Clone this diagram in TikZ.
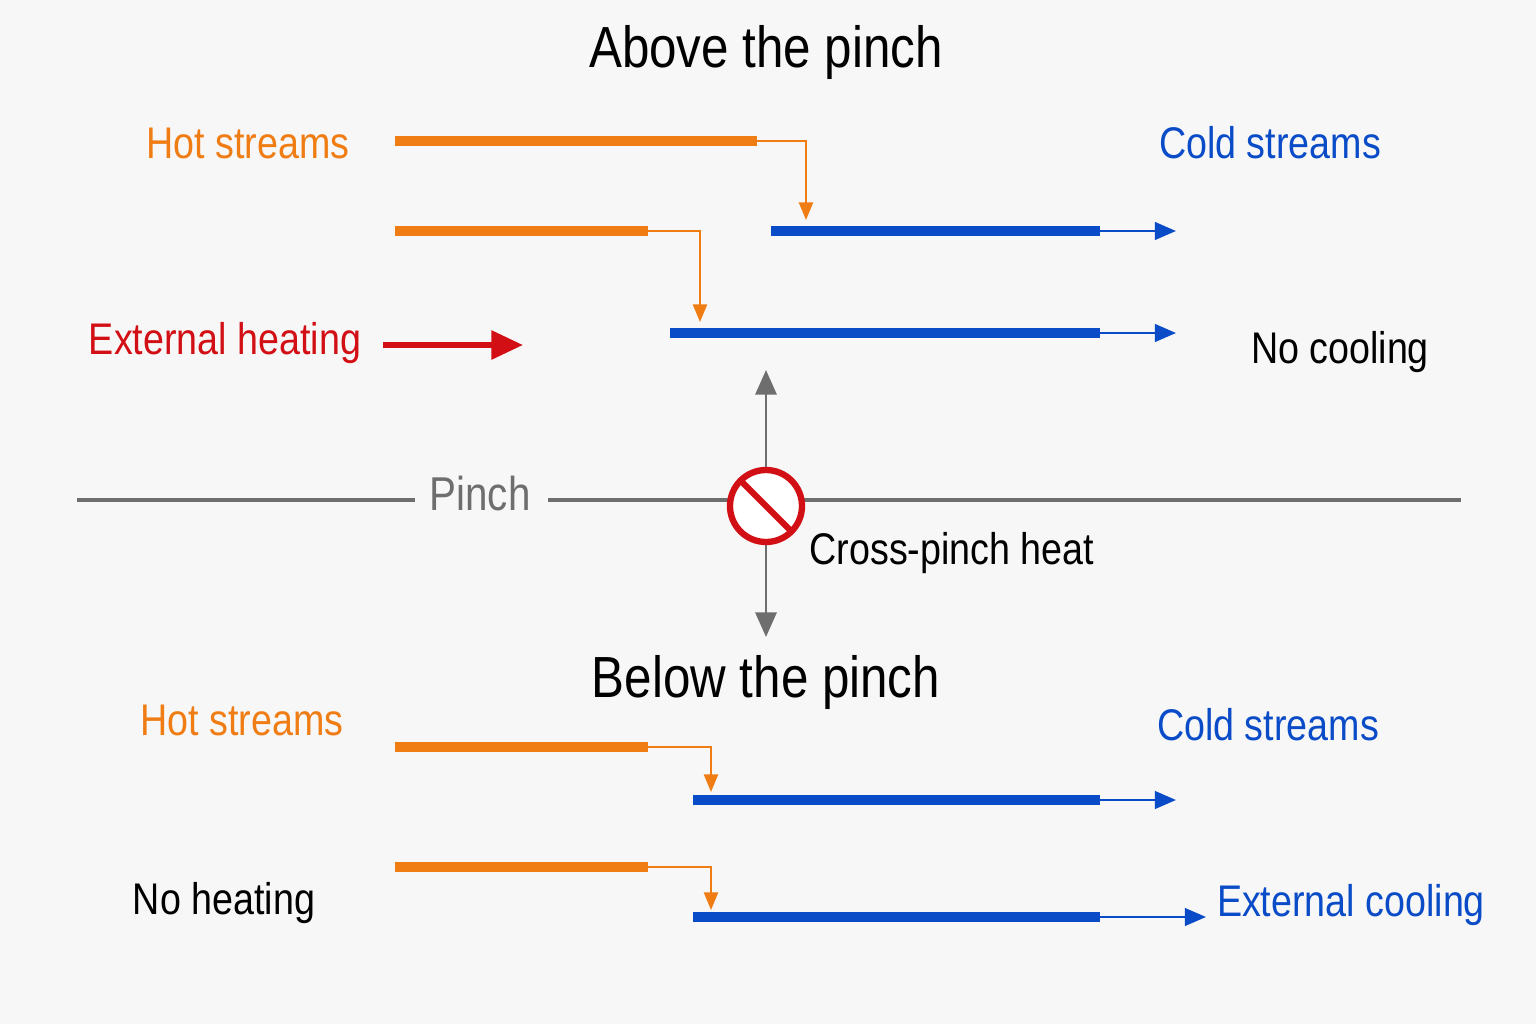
\documentclass[tikz,border=0pt]{standalone}
\usepackage{fontspec}
\setmainfont[FakeStretch=0.85]{Liberation Sans}
\usetikzlibrary{arrows.meta,calc}
\definecolor{hot}{RGB}{240,125,20}
\definecolor{cold}{RGB}{10,75,200}
\definecolor{heat}{RGB}{210,15,20}
\definecolor{pinchgray}{RGB}{110,110,110}
\tikzset{
  hotbar/.style={hot, line width=2.8pt},
  coldbar/.style={cold, line width=2.8pt},
  hotlink/.style={hot, line width=0.6pt, -{Triangle[length=5pt,width=4pt]}},
  coldout/.style={cold, line width=0.7pt, -{Triangle[length=6pt,width=5pt]}},
  lbl/.style={font=\fontsize{12.6}{15}\selectfont}
}
\begin{document}
\begin{tikzpicture}[x=0.01cm, y=-0.01cm]
  \useasboundingbox[fill=white!97!black] (0,0) rectangle (1536,1024);

  % Titles and labels
  \node[font=\fontsize{16.5}{19}\selectfont] (above) at (766,52) {Above the pinch};
  \node[font=\fontsize{16.5}{19}\selectfont] (below) at (766,682) {Below the pinch};
  \node[lbl, hot] (hotA) at (248,143) {Hot streams};
  \node[lbl, cold] (coldA) at (1270,143) {Cold streams};
  \node[lbl, hot] (hotB) at (242,720) {Hot streams};
  \node[lbl, cold] (coldB) at (1268,725) {Cold streams};
  \node[lbl, heat] (extheat) at (225,343) {External heating};
  \node[lbl] (nocool) at (1340,352) {No cooling};
  \node[lbl] (noheat) at (224,903) {No heating};
  \node[lbl, cold] (extcool) at (1351,905) {External cooling};
  \node[lbl] (cross) at (952,553) {Cross-pinch heat};

  % Above the pinch
  \coordinate (h1a) at (395,141); \coordinate (h1b) at (757,141);
  \coordinate (c1a) at (771,231); \coordinate (c1b) at (1100,231); \coordinate (c1c) at (1176,231);
  \coordinate (h2a) at (395,231); \coordinate (h2b) at (648,231);
  \coordinate (c2a) at (670,333); \coordinate (c2b) at (1100,333); \coordinate (c2c) at (1176,333);
  \draw[hotbar] (h1a) -- (h1b);
  \draw[hotlink] (h1b) -| (806,220);
  \draw[coldbar] (c1a) -- (c1b);
  \draw[coldout] (c1b) -- (c1c);
  \draw[hotbar] (h2a) -- (h2b);
  \draw[hotlink] (h2b) -| (700,322);
  \draw[coldbar] (c2a) -- (c2b);
  \draw[coldout] (c2b) -- (c2c);
  \coordinate (ha) at (383,345); \coordinate (hb) at (523,345);
  \draw[heat, line width=1.6pt, -{Triangle[length=9pt,width=8pt]}] (ha) -- (hb);

  % Pinch
  \node[lbl, pinchgray, font=\fontsize{13.5}{16}\selectfont] (pinch) at (480,494) {Pinch};
  \coordinate (p0) at (77,500); \coordinate (p1) at (1461,500);
  \draw[pinchgray, line width=1pt] (p0) -- (415,500);
  \draw[pinchgray, line width=1pt] (548,500) -- (p1);
  \coordinate (ban) at (766,506);
  \draw[pinchgray, line width=0.8pt, -{Triangle[length=7pt,width=6pt]}] (766,468) -- (766,370);
  \draw[pinchgray, line width=0.8pt, -{Triangle[length=7pt,width=6pt]}] (766,544) -- (766,637);
  \fill[white] (ban) circle (36);
  \draw[heat, line width=1.8pt] (ban) circle (36);
  \draw[heat, line width=1.8pt] ($(ban)+(-25,-25)$) -- ($(ban)+(25,25)$);

  % Below the pinch
  \coordinate (h3a) at (395,747); \coordinate (h3b) at (648,747);
  \coordinate (c3a) at (693,800); \coordinate (c3b) at (1100,800); \coordinate (c3c) at (1176,800);
  \coordinate (h4a) at (395,867); \coordinate (h4b) at (648,867);
  \coordinate (c4a) at (693,917); \coordinate (c4b) at (1100,917); \coordinate (c4c) at (1206,917);
  \draw[hotbar] (h3a) -- (h3b);
  \draw[hotlink] (h3b) -| (711,792);
  \draw[coldbar] (c3a) -- (c3b);
  \draw[coldout] (c3b) -- (c3c);
  \draw[hotbar] (h4a) -- (h4b);
  \draw[hotlink] (h4b) -| (711,910);
  \draw[coldbar] (c4a) -- (c4b);
  \draw[coldout] (c4b) -- (c4c);
\end{tikzpicture}
\end{document}
